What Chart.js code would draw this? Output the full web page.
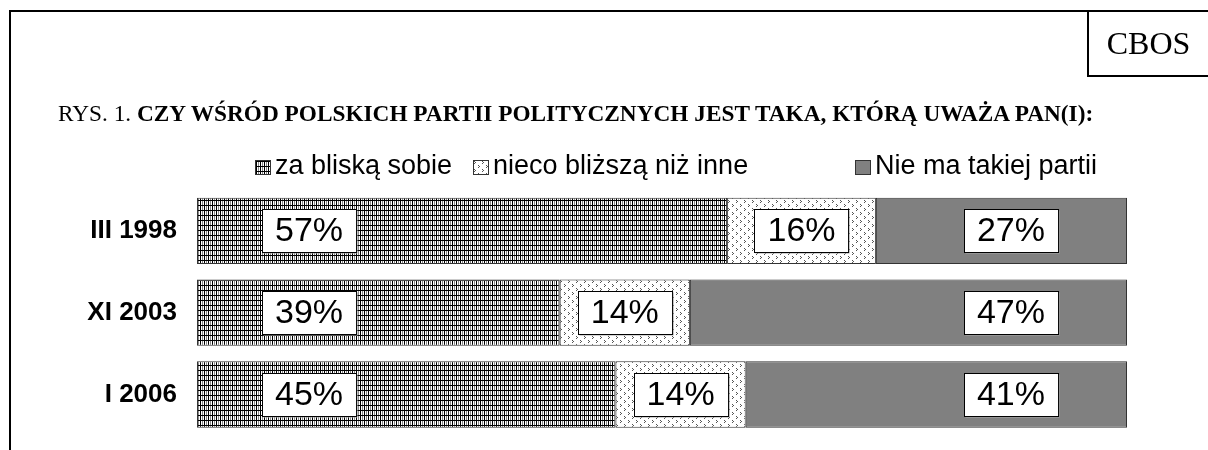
<!DOCTYPE html>
<html lang="pl">
<head>
    <meta charset="UTF-8">
    <title>CBOS - Rys. 1</title>
    <style>
        body {
            margin: 0;
            width: 1208px;
            height: 450px;
            overflow: hidden;
            background: #fff;
            position: relative;
            font-family: "Liberation Sans", Arial, sans-serif;
        }

        #frame {
            position: absolute;
            left: 9px;
            top: 10px;
            width: 1220px;
            height: 460px;
            border-left: 2px solid #000;
            border-top: 2px solid #000;
        }

        #cbos {
            position: absolute;
            left: 1087px;
            top: 10px;
            width: 121px;
            height: 67px;
            border-left: 2px solid #000;
            border-bottom: 2px solid #000;
            font-family: "Liberation Serif", "Times New Roman", serif;
            font-size: 32px;
            line-height: 67px;
            text-align: center;
            box-sizing: border-box;
        }

        #title {
            position: absolute;
            left: 58px;
            top: 100px;
            font-family: "Liberation Serif", "Times New Roman", serif;
            font-size: 23.3px;
            white-space: nowrap;
        }

        #legend .item {
            position: absolute;
            top: 150px;
            font-size: 27px;
            line-height: 30px;
            white-space: nowrap;
        }

        #legend .swatch {
            display: inline-block;
            width: 16px;
            height: 15px;
            border: 1px solid #333;
            box-sizing: border-box;
            margin-right: 4px;
            vertical-align: -1px;
        }

        #chart {
            position: absolute;
            left: 0;
            top: 0;
        }
    </style>
</head>
<body>
    <!-- canvas is a bit taller than the page so the bars reach down like in the original -->
    <canvas id="chart" width="1208" height="471"></canvas>
    <div id="frame"></div>
    <div id="cbos">CBOS</div>
    <div id="title">RYS. 1. <b>CZY WŚRÓD POLSKICH PARTII POLITYCZNYCH JEST TAKA, KTÓRĄ UWAŻA PAN(I):</b></div>
    <div id="legend"></div>

    <script src="https://cdn.jsdelivr.net/npm/chart.js"></script>

    <script>
        const categories = ['III 1998', 'XI 2003', 'I 2006'];
        const seriesNames = ['za bliską sobie', 'nieco bliższą niż inne', 'Nie ma takiej partii'];
        const zaBliska = [57, 39, 45];
        const nieco = [16, 14, 14];
        const nieMa = [27, 47, 41];

        // small pattern tiles, like the old excel fills
        function makeTile(w, h, draw) {
            const c = document.createElement('canvas');
            c.width = w;
            c.height = h;
            const g = c.getContext('2d');
            g.fillStyle = '#fff';
            g.fillRect(0, 0, w, h);
            draw(g);
            return c;
        }

        const gridTile = makeTile(4, 5, g => {
            g.fillStyle = '#000';
            g.fillRect(0, 0, 1, 5);
            g.fillRect(0, 0, 4, 1);
            g.fillStyle = '#888';
            g.fillRect(2, 1, 1, 4);
        });

        const dotTile = makeTile(8, 8, g => {
            g.fillStyle = '#555';
            [[0, 0], [1, 1], [0, 2], [4, 4], [5, 5], [4, 6]].forEach(p => g.fillRect(p[0], p[1], 1, 1));
        });

        const ctx = document.getElementById('chart').getContext('2d');
        const fills = [
            ctx.createPattern(gridTile, 'repeat'),
            ctx.createPattern(dotTile, 'repeat'),
            '#808080'
        ];
        const swatchBg = [
            'url(' + gridTile.toDataURL() + ')',
            'url(' + dotTile.toDataURL() + ')',
            '#808080'
        ];

        // legend in html, spaced like the original
        const legendX = [255, 473, 855];
        const legend = document.getElementById('legend');
        seriesNames.forEach((name, i) => {
            legend.innerHTML += `<div class="item" style="left:${legendX[i]}px"><span class="swatch" style="background:${swatchBg[i]}"></span>${name}</div>`;
        });

        const labelBoxes = {
            id: 'labelBoxes',
            afterDatasetsDraw(chart) {
                const c = chart.ctx;
                c.save();
                c.font = '34px "Liberation Sans", Arial, sans-serif';
                c.textAlign = 'center';
                c.textBaseline = 'middle';
                chart.data.datasets.forEach((ds, i) => {
                    chart.getDatasetMeta(i).data.forEach((bar, j) => {
                        const text = ds.data[j] + '%';
                        const w = c.measureText(text).width + 26;
                        const h = 43;
                        let cx;
                        if (i === 0) cx = bar.base + 65 + w / 2;
                        else if (i === 2) cx = bar.x - 69 - w / 2;
                        else cx = (bar.base + bar.x) / 2;
                        const x = Math.round(cx - w / 2) + 0.5;
                        const y = Math.round(bar.y - h / 2) + 0.5;
                        c.fillStyle = '#aaa';
                        c.fillRect(x + 1, y + 1, w, h);
                        c.fillStyle = '#fff';
                        c.fillRect(x, y, w, h);
                        c.strokeStyle = '#000';
                        c.lineWidth = 1;
                        c.strokeRect(x, y, w, h);
                        c.fillStyle = '#000';
                        c.fillText(text, cx, bar.y + 1);
                    });
                });
                c.restore();
            }
        };

        new Chart(ctx, {
            type: 'bar',
            data: {
                labels: categories,
                datasets: [
                    { label: seriesNames[0], data: zaBliska, backgroundColor: fills[0] },
                    { label: seriesNames[1], data: nieco, backgroundColor: fills[1] },
                    { label: seriesNames[2], data: nieMa, backgroundColor: fills[2] }
                ].map(d => Object.assign(d, {
                    borderColor: '#333',
                    borderWidth: 1,
                    borderSkipped: false,
                    barPercentage: 0.81,
                    categoryPercentage: 1
                }))
            },
            options: {
                indexAxis: 'y',
                responsive: false,
                animation: false,
                layout: { padding: { left: 0, right: 81, top: 190, bottom: -4 } },
                plugins: {
                    legend: { display: false },
                    tooltip: { enabled: false }
                },
                scales: {
                    x: {
                        stacked: true,
                        min: 0,
                        max: 100,
                        display: false
                    },
                    y: {
                        stacked: true,
                        grid: { display: false, drawTicks: false },
                        border: { display: false },
                        afterFit(axis) { axis.width = 197; },
                        ticks: {
                            color: '#000',
                            padding: 20,
                            font: { family: '"Liberation Sans", Arial, sans-serif', size: 26, weight: 'bold' }
                        }
                    }
                }
            },
            plugins: [labelBoxes]
        });
    </script>
</body>
</html>
